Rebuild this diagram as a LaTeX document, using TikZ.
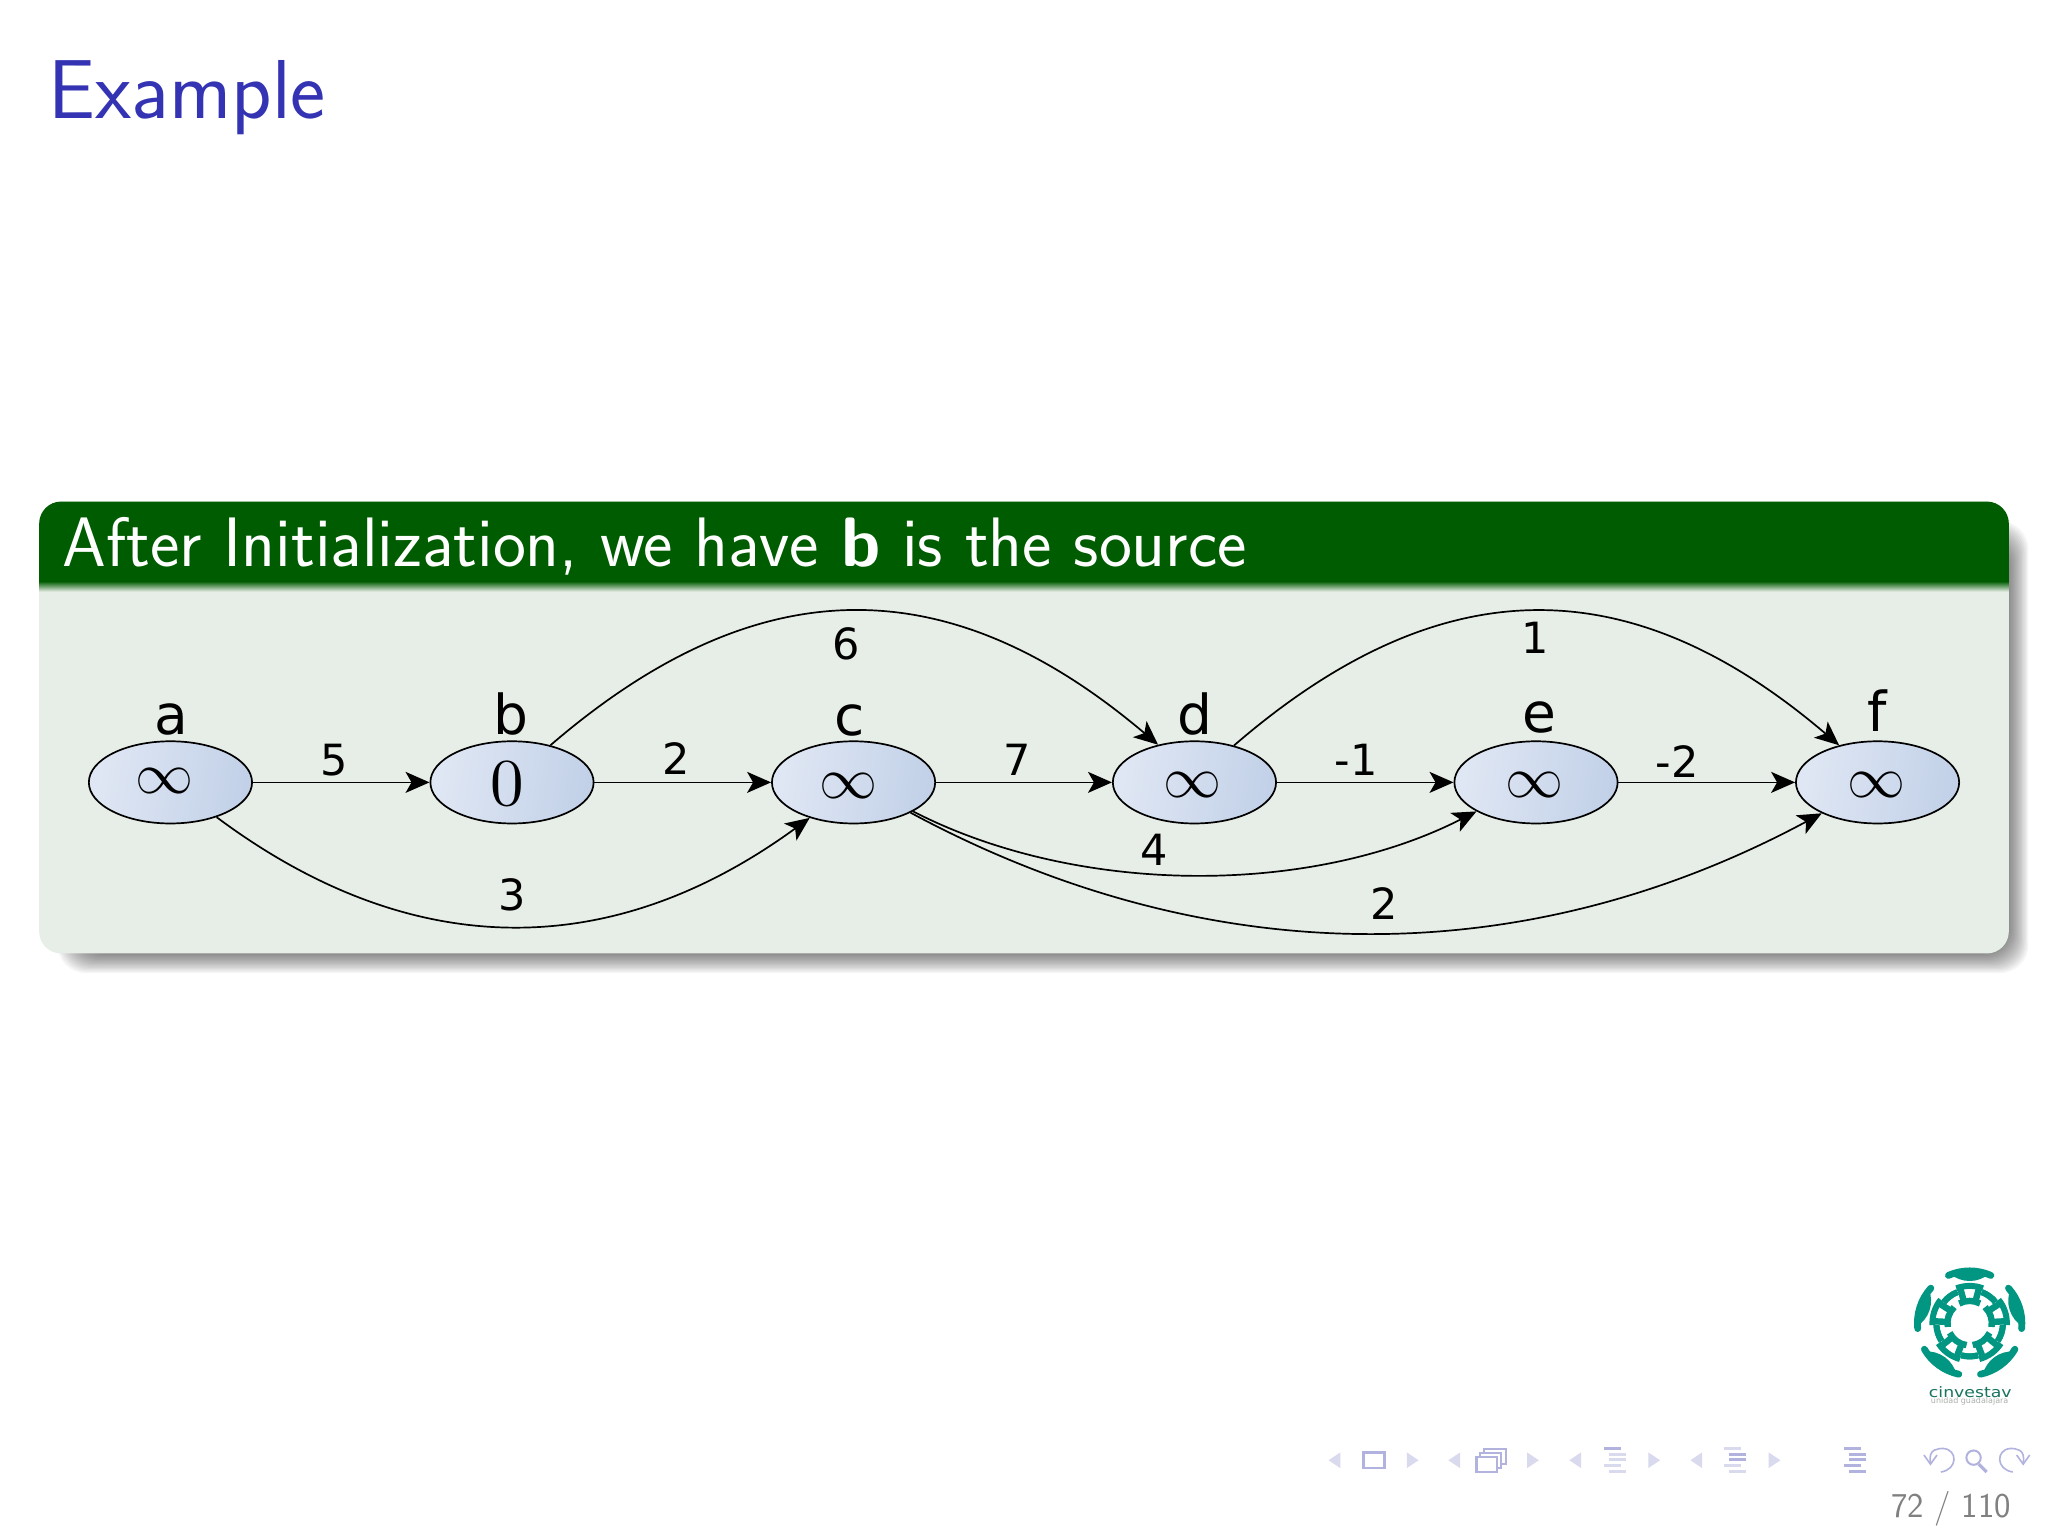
\documentclass[tikz,border=0pt]{standalone}
\usepackage{fontspec}
\usetikzlibrary{arrows.meta,shapes.geometric}
\newfontfamily\dv{DejaVu Sans}
\definecolor{titleblue}{RGB}{51,51,179}
\definecolor{hdrgreen}{RGB}{0,92,0}
\definecolor{bodygreen}{RGB}{231,237,231}
\definecolor{nodeL}{RGB}{224,231,244}
\definecolor{nodeR}{RGB}{194,209,232}
\definecolor{logoteal}{RGB}{0,150,130}
\definecolor{navc}{RGB}{178,178,222}
\definecolor{navl}{RGB}{218,218,238}
\tikzset{
  vert/.style={ellipse,draw=black,line width=0.85pt,minimum width=81.6pt,minimum height=41.1pt,inner sep=0pt,left color=nodeL,right color=nodeR,shading angle=80},
  vname/.style={font=\dv\fontsize{27.5}{28}\selectfont,inner sep=0pt},
  wlabel/.style={font=\dv\fontsize{21.5}{22}\selectfont,inner sep=0pt},
  infval/.style={scale=2.9,inner sep=0pt},
  zeroval/.style={scale=3.35,inner sep=0pt},
  edge/.style={line width=0.85pt,-{Stealth[length=12pt,width=10.5pt,inset=3pt]}},
  navtri/.style={fill=navl},
}
\begin{document}
\begin{tikzpicture}[x=0.653pt,y=-0.653pt]
\useasboundingbox (0,0) rectangle (1568,1176);
\fill[white] (0,0) rectangle (1568,1176);
\node[anchor=base west,inner sep=0pt,text=titleblue,font=\sffamily\fontsize{41.8}{42}\selectfont] (ttl) at (37,91) {Example};
% shadow
\foreach \k in {8,7,...,-8}{
  \fill[black,opacity=0.035,rounded corners=14] (52-\k,407-\k) rectangle (1545+\k,737+\k);
}
% block
\fill[bodygreen,rounded corners=11] (30,384) rectangle (1538,730);
\begin{scope}
  \clip (30,384) rectangle (1538,445);
  \fill[hdrgreen,rounded corners=11] (30,384) rectangle (1538,500);
\end{scope}
\shade[top color=hdrgreen,bottom color=bodygreen] (30,445) rectangle (1538,453);
\node[anchor=base west,inner sep=0pt,text=white,font=\sffamily\fontsize{35}{36}\selectfont] (hdr) at (47.5,434) {After Initialization, we have \textbf{b} is the source};
% vertices
\node[vert] (a) at (130.5,599) {};
\node[vert] (b) at (392,599) {};
\node[vert] (c) at (653.5,599) {};
\node[vert] (d) at (914.5,599) {};
\node[vert] (e) at (1176,599) {};
\node[vert] (f) at (1437.5,599) {};
\node[infval] (va) at (126,598) {$\infty$};
\node[zeroval] (vb) at (388,600) {$0$};
\node[infval] (vc) at (650,602) {$\infty$};
\node[infval] (vd) at (913,601) {$\infty$};
\node[infval] (ve) at (1175,601) {$\infty$};
\node[infval] (vf) at (1437,601) {$\infty$};
\node[vname,anchor=base] (na) at (131,562) {a};
\node[vname,anchor=base] (nb) at (391,562) {b};
\node[vname,anchor=base] (nc) at (650.5,563) {c};
\node[vname,anchor=base] (nd) at (914.5,562) {d};
\node[vname,anchor=base] (ne) at (1178.5,561) {e};
\node[vname,anchor=base] (nf) at (1437.5,560) {f};
% edges
\draw[edge] (a) -- (b);
\draw[edge] (b) -- (c);
\draw[edge] (c) -- (d);
\draw[edge] (d) -- (e);
\draw[edge] (e) -- (f);
\draw[edge] (a.-37) .. controls (315,737) and (468,737) .. (c.-141);
\draw[edge] (b.44) .. controls (580,434) and (726,434) .. (d.134);
\draw[edge] (d.43) .. controls (1103,434) and (1248,434) .. (f.136);
\draw[edge] (c.-26) .. controls (825,686) and (1003,686) .. (e.-154);
\draw[edge] (c.-28) .. controls (925,745) and (1167,745) .. (f.-151);
% weights
\node[wlabel] (w1) at (255.5,582) {5};
\node[wlabel] (w2) at (517.5,581) {2};
\node[wlabel] (w3) at (778.5,582) {7};
\node[wlabel] (w4) at (1038.5,582) {-1};
\node[wlabel] (w5) at (1284,583) {-2};
\node[wlabel] (w6) at (647.5,493) {6};
\node[wlabel] (w7) at (1175.5,488) {1};
\node[wlabel] (w8) at (883.5,651) {4};
\node[wlabel] (w9) at (392.5,685) {3};
\node[wlabel] (w10) at (1059.5,692) {2};
% logo
\begin{scope}[shift={(1508,1013)},x=0.653pt,y=0.653pt,logoteal]
  \foreach \t in {90,18,-54,-126,162}{
    \begin{scope}[rotate=\t]
      \draw[line width=3.4pt,line cap=round] (24:40) arc[start angle=24,end angle=-24,radius=40];
      \fill (22:41) arc[start angle=22,end angle=-22,radius=41] .. controls (-12:31) and (12:31) .. cycle;
      \draw[line width=3.2pt] (15:15) -- (15:29);
      \draw[line width=3.2pt] (-15:15) -- (-15:29);
      \draw[line width=3pt] (21:28.5) arc[start angle=21,end angle=-21,radius=28.5];
      \draw[line width=3pt] (50:25.5) arc[start angle=50,end angle=21,radius=25.5];
      \draw[line width=3pt] (-21:25.5) arc[start angle=-21,end angle=-50,radius=25.5];
      \draw[line width=3.2pt] (28:17) arc[start angle=28,end angle=-28,radius=17];
    \end{scope}
  }
\end{scope}
\node[inner sep=0pt,xscale=1.2,text={rgb,255:red,25;green,115;blue,95},font=\dv\fontsize{7.2}{8}\selectfont] (lg1) at (1508.5,1065.5) {cinvestav};
\node[inner sep=0pt,text={rgb,255:red,170;green,175;blue,170},font=\dv\fontsize{4}{4}\selectfont] (lg2) at (1508,1073) {unidad guadalajara};
% navigation symbols
\foreach \xa/\xb in {1021.7/1081.6,1113.4/1173.7,1206/1266.5,1298.7/1358.6}{
  \fill[navtri] (\xa-4.5,1118) -- (\xa+4.5,1112) -- (\xa+4.5,1124) -- cycle;
  \fill[navtri] (\xb+4.5,1118) -- (\xb-4.5,1112) -- (\xb-4.5,1124) -- cycle;
}
\draw[navc,line width=1.3pt] (1044,1112) rectangle (1060,1124);
\draw[navc,line width=0.9pt] (1136,1109.5) rectangle (1153,1121);
\draw[navc,line width=0.9pt,fill=white] (1133,1112.5) rectangle (1149,1124);
\draw[navc,line width=1.3pt,fill=white] (1130.6,1115.5) rectangle (1146,1127);
\foreach \xs/\hi in {1228/1,1320/2,1412/3}{
  \foreach \yy/\w/\o/\lvl in {1109/13/0/1,1113.4/13/4/2,1117.7/13/4/2,1122/13/0/3,1126.4/13/4/3}{
    \pgfmathsetmacro\colsel{(\lvl==\hi || \hi==3) ? 1 : 0}
    \ifdim\colsel pt>0.5pt
      \fill[navc] (\xs+\o,\yy-1.2) rectangle (\xs+\o+\w,\yy+1.2);
    \else
      \fill[navl] (\xs+\o,\yy-1.2) rectangle (\xs+\o+\w,\yy+1.2);
    \fi
  }
}
\coordinate (magC) at (1511,1116);
\draw[navc,line width=0.8pt] (1478,1120) .. controls (1476,1109) and (1484,1109) .. (1488,1109) .. controls (1499,1110) and (1499,1125) .. (1486,1127);
\draw[navc,line width=0.8pt] (1473,1114) -- (1478,1121) -- (1483,1114);
\draw[navc,line width=0.8pt] (1549,1120) .. controls (1551,1109) and (1543,1109) .. (1539,1109) .. controls (1528,1110) and (1528,1125) .. (1541,1127);
\draw[navc,line width=0.8pt] (1554,1114) -- (1549,1121) -- (1544,1114);
\draw[navc,line width=1pt] (magC) circle[radius=5.5];
\draw[navc,line width=1.6pt] ([shift={(4,5)}]magC) -- ([shift={(10,11)}]magC);
\node[anchor=base east,inner sep=0pt,text={rgb,255:red,128;green,128;blue,128},font=\sffamily\fontsize{17.4}{18}\selectfont] (pg) at (1540,1162) {72 / 110};
\end{tikzpicture}
\end{document}
